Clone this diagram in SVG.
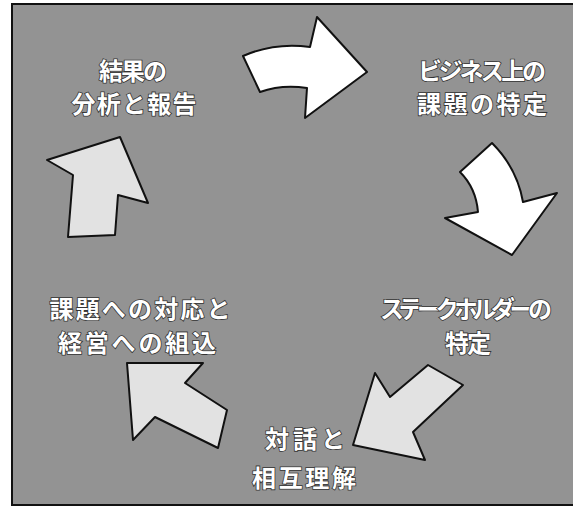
<svg xmlns="http://www.w3.org/2000/svg" width="573" height="508" viewBox="0 0 573 508">
<style>
.bg{fill:#939393;stroke:#111;stroke-width:2}
.arw{stroke:#111;stroke-width:2;stroke-linejoin:round}
.w{fill:#ffffff}
.g{fill:#e2e2e2}
.t{font-family:"Noto Sans CJK JP","Noto Sans CJK SC",sans-serif;font-size:24px;font-weight:bold;fill:#ffffff;stroke:#333;stroke-width:1.6;paint-order:stroke;text-anchor:middle}
</style>
<rect width="573" height="508" fill="#ffffff"/>
<rect class="bg" x="12" y="4" width="565" height="501"/>
<g id="connectors">
<path class="arw w" d="M243,56 Q275,42 310,47 L317,17 L367,72 L305,118 L307,88 Q282,84 260,92 Z"/>
<path class="arw w" d="M460,172 L492,143 Q517,168 523,202 L557,193 L512,255 L445,218 L478,212 Q476,188 460,172 Z"/>
<path class="arw g" d="M353,445 L375,373 L390,397 L428,365 L463,385 L413,432 L425,460 Z"/>
<path class="arw g" d="M127,363 L203,363 L185,383 L227,410 L218,448 L155,417 L133,440 Z"/>
<path class="arw g" d="M47,160 L120,137 L148,203 L118,195 L115,235 L68,237 L73,175 Z"/>
</g>
<g id="node-results">
<text class="t" x="133" y="80" textLength="68">結果の</text>
<text class="t" x="134" y="113" textLength="125">分析と報告</text>
</g>
<g id="node-issues">
<text class="t" x="482" y="80" textLength="128">ビジネス上の</text>
<text class="t" x="482" y="113" textLength="130">課題の特定</text>
</g>
<g id="node-stakeholders">
<text class="t" x="466" y="318" textLength="172">ステークホルダーの</text>
<text class="t" x="468" y="352" textLength="46">特定</text>
</g>
<g id="node-dialogue">
<text class="t" x="305" y="448" textLength="80">対話と</text>
<text class="t" x="304" y="487" textLength="104">相互理解</text>
</g>
<g id="node-response">
<text class="t" x="140" y="318" textLength="181">課題への対応と</text>
<text class="t" x="137" y="352" textLength="158">経営への組込</text>
</g>
</svg>
